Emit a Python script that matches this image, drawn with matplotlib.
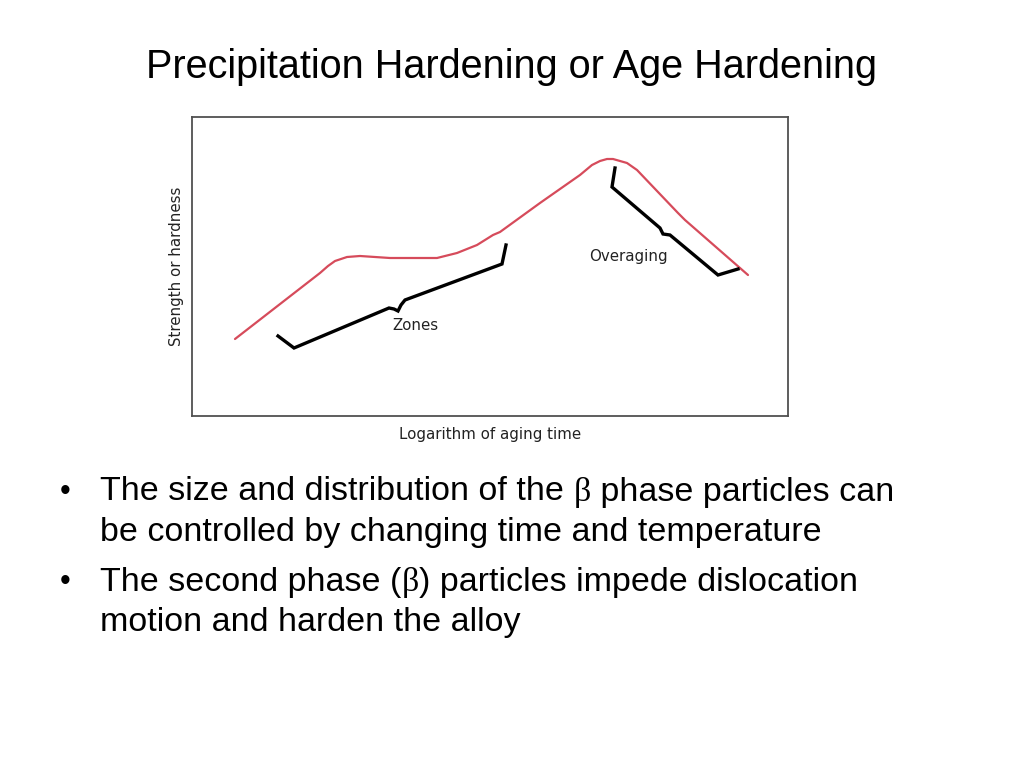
import matplotlib
matplotlib.use("Agg")
import matplotlib.pyplot as plt

# ---- data (diagram units: x = log aging time, y = strength) ----
curve_x = [43, 128, 136, 143, 155, 168, 198, 245, 265, 285, 301, 308, 348, 388, 400, 408, 415, 421, 428, 435, 445, 486, 493, 556]
curve_y = [77, 143, 150, 155, 159, 160, 158, 158, 163, 171, 181, 184, 213, 241, 251, 255, 257, 257, 255, 253, 246, 203, 196, 141]

zones_x = [86, 102, 197, 202, 206, 209, 213, 310, 314]
zones_y = [80, 68, 108, 107, 105, 111, 116, 152, 171]

over_x = [423, 420, 468, 471, 478, 526, 546]
over_y = [248, 229, 188, 182, 181, 141, 147]

title = "Precipitation Hardening or Age Hardening"
xlabel = "Logarithm of aging time"
ylabel = "Strength or hardness"
zones_label = ("Zones", 223, 90)
over_label = ("Overaging", 436, 159)

bullets = [
    [["The size and distribution of the ", "β", " phase particles can"],
     ["be controlled by changing time and temperature"]],
    [["The second phase (", "β", ") particles impede dislocation"],
     ["motion and harden the alloy"]],
]

W, H = 1024, 768
fig = plt.figure(figsize=(W / 100, H / 100), dpi=100)
fig.patch.set_facecolor("white")

ax = fig.add_axes([192 / W, 1 - 416 / H, 596 / W, 299 / H])
ax.set_xlim(0, 596)
ax.set_ylim(0, 299)
ax.set_xticks([])
ax.set_yticks([])
for s in ax.spines.values():
    s.set_edgecolor("#505050")
    s.set_linewidth(1.3)

ax.plot(curve_x, curve_y, color="#d64b5b", lw=1.6, solid_joinstyle="round", solid_capstyle="round")
ax.plot(zones_x, zones_y, color="black", lw=2.4, solid_joinstyle="miter")
ax.plot(over_x, over_y, color="black", lw=2.4, solid_joinstyle="miter")

small = dict(family="DejaVu Sans", fontsize=10.8, color="#222222")
ax.text(zones_label[1], zones_label[2], zones_label[0], ha="center", va="center", **small)
ax.text(over_label[1], over_label[2], over_label[0], ha="center", va="center", **small)

fig.text(490 / W, 1 - 435 / H, xlabel, ha="center", va="center", **small)
fig.text(176 / W, 1 - 266 / H, ylabel, ha="center", va="center", rotation=90, **small)

fig.text(512 / W, 1 - 67 / H, title, ha="center", va="center",
         family="Liberation Sans", fontsize=28.5, color="black")

# bullets
renderer = fig.canvas.get_renderer()
line_y = [492, 532, 582, 622]
k = 0
for b in bullets:
    for li, parts in enumerate(b):
        y = 1 - line_y[k] / H
        if li == 0:
            fig.text(60 / W, y, "•", ha="left", va="center", family="Liberation Sans", fontsize=22)
        x = 100
        for p in parts:
            fam = "Liberation Serif" if p == "β" else "Liberation Sans"
            t = fig.text(x / W, y, p, ha="left", va="center", family=fam, fontsize=24.5, color="black")
            bb = t.get_window_extent(renderer=renderer)
            x = bb.x1
        k += 1

fig.savefig("out.png", dpi=100, facecolor="white")
